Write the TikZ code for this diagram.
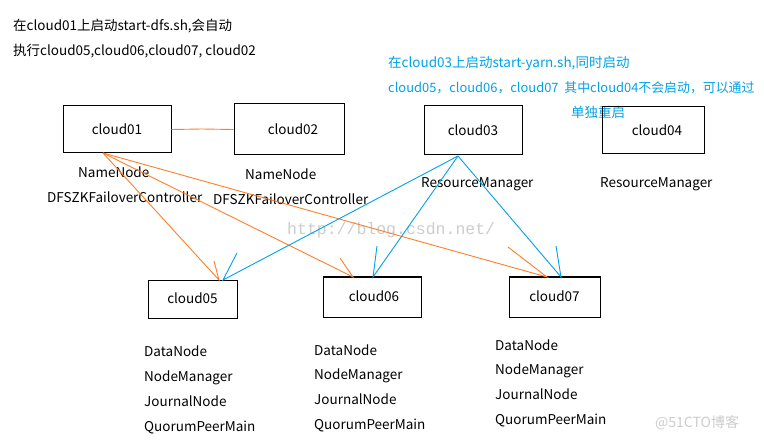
\documentclass[tikz,border=0pt]{standalone}
\usepackage{fontspec}
\setmainfont{Noto Sans CJK SC}
\newfontfamily\wmfont{Liberation Mono}
\definecolor{pblue}{RGB}{0,162,232}
\definecolor{porange}{RGB}{255,127,39}
\definecolor{wmgray}{RGB}{205,205,205}
\begin{document}
\begin{tikzpicture}[x=1pt,y=-1pt,
  every node/.style={font=\fontsize{13.5}{16}\selectfont, inner sep=0pt, text height=12.6pt, text depth=3pt},
  hostbox/.style={draw=black, line width=1pt},
  txt/.style={anchor=west},
  btxt/.style={anchor=west, text=pblue},
  oline/.style={draw=porange, line width=0.9pt},
  bline/.style={draw=pblue, line width=0.9pt}]
\useasboundingbox[fill=white] (0,0) rectangle (764,441);

% top notes
\node[txt] (n1) at (13,26) {在cloud01上启动start-dfs.sh,会自动};
\node[txt] (n2) at (13,51) {执行cloud05,cloud06,cloud07, cloud02};
\node[btxt] (b1) at (388,63) {在cloud03上启动start-yarn.sh,同时启动};
\node[btxt, font=\fontsize{12.9}{16}\selectfont] (b2) at (388,88) {cloud05，cloud06，cloud07\ \ 其中cloud04不会启动，可以通过};
\node[btxt] (b3) at (571,113) {单独重启};

% hosts
\node[hostbox, minimum width=108pt, minimum height=47pt] (c1) at (117,129.5) {cloud01};
\node[hostbox, minimum width=110pt, minimum height=51pt] (c2) at (289,129.5) {\hspace*{8pt}cloud02};
\node[hostbox, minimum width=98pt, minimum height=49pt] (c3) at (473,130.5) {cloud03};
\node[hostbox, minimum width=102pt, minimum height=47pt] (c4) at (653,130.5) {\hspace*{8pt}cloud04};
\node[hostbox, minimum width=89pt, minimum height=38pt] (c5) at (192.5,299) {cloud05};
\node[hostbox, minimum width=98pt, minimum height=40pt] (c6) at (372,297) {\hspace*{4pt}cloud06};
\node[hostbox, minimum width=91pt, minimum height=40pt] (c7) at (554.5,297) {cloud07};

% process labels
\node[txt] (p1a) at (78,173) {NameNode};
\node[txt] (p1b) at (47,198) {DFSZKFailoverController};
\node[txt] (p2a) at (245,175) {NameNode};
\node[txt] (p2b) at (213,200) {DFSZKFailoverController};
\node[txt] (p3a) at (421,183) {ResourceManager};
\node[txt] (p4a) at (600,183) {ResourceManager};

\node[txt] (p5a) at (144,352) {DataNode};
\node[txt] (p5b) at (144,377) {NodeManager};
\node[txt] (p5c) at (144,402) {JournalNode};
\node[txt] (p5d) at (144,427) {QuorumPeerMain};
\node[txt] (p6a) at (314,351) {DataNode};
\node[txt] (p6b) at (314,375) {NodeManager};
\node[txt] (p6c) at (314,400) {JournalNode};
\node[txt] (p6d) at (314,425) {QuorumPeerMain};
\node[txt] (p7a) at (495,346) {DataNode};
\node[txt] (p7b) at (495,370) {NodeManager};
\node[txt] (p7c) at (495,395) {JournalNode};
\node[txt] (p7d) at (495,420) {QuorumPeerMain};

% watermarks
\node[anchor=west, text=wmgray, font=\wmfont\fontsize{16.5}{18}\selectfont] (wm1) at (287,230) {http://blog.csdn.net/};
\node[anchor=west, text=wmgray, font=\fontsize{14}{16}\selectfont] (wm2) at (655,423) {@51CTO博客};

% connector points
\coordinate (o1) at (103,153);
\coordinate (o3) at (458,156);
\coordinate (mid12) at (202,129);
\coordinate (t5o) at (219,280);
\coordinate (t6o) at (353,277);
\coordinate (t7o) at (547,277);
\coordinate (t5b) at (223,280);
\coordinate (t6b) at (373,277);
\coordinate (t7b) at (561,277);
\coordinate (k5o) at (214,261);
\coordinate (k6o) at (340,258);
\coordinate (k7o) at (508,247);
\coordinate (k5b) at (237,253);
\coordinate (k6b) at (377,246);
\coordinate (k7b) at (556,246);

% orange connectors
\draw[oline] (c1.east) -- (mid12) -- (c2.west);
\draw[oline] (o1) -- (t5o) -- (k5o);
\draw[oline] (o1) -- (t6o) -- (k6o);
\draw[oline] (o1) -- (t7o) -- (k7o);
% blue connectors
\draw[bline] (o3) -- (t5b) -- (k5b);
\draw[bline] (o3) -- (t6b) -- (k6b);
\draw[bline] (o3) -- (t7b) -- (k7b);
\end{tikzpicture}
\end{document}
